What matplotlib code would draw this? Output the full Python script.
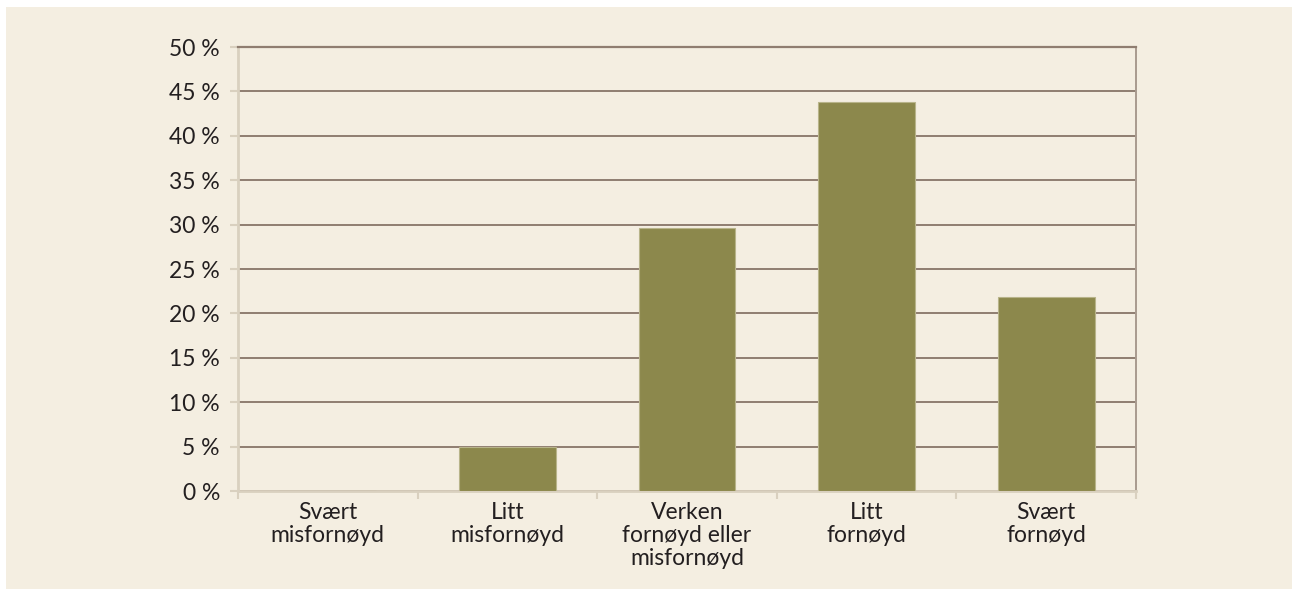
import numpy as np
import matplotlib
matplotlib.use("Agg")
import matplotlib.pyplot as plt
from matplotlib.patches import Rectangle
from matplotlib.ticker import MultipleLocator, FuncFormatter

# data
categories = ["Svært\nmisfornøyd", "Litt\nmisfornøyd", "Verken\nfornøyd eller\nmisfornøyd",
              "Litt\nfornøyd", "Svært\nfornøyd"]
values = [0.0, 4.9, 29.6, 43.8, 21.9]

bg = "#f4eee1"
bar_col = "#8c884c"
grid_col = "#8f7d70"
axis_col = "#d9d0bf"

plt.rcParams['font.family'] = ['Lato', 'DejaVu Sans']

fig = plt.figure(figsize=(12.92, 5.89), dpi=100, facecolor="white")
# beige panel, thin white strip on top and left
fig.patches.append(Rectangle((6 / 1292, 0), 1, 1 - 7 / 589, transform=fig.transFigure,
                             facecolor=bg, edgecolor="none", zorder=-5))

ax = fig.add_axes([238 / 1292, 98 / 589, 898 / 1292, 444 / 589])
ax.set_facecolor(bg)

x = np.arange(len(categories))
ax.bar(x, values, width=0.54, color=bar_col, edgecolor="#b8b48a", linewidth=0.8, zorder=3)

ax.set_xlim(-0.5, len(categories) - 0.5)
ax.set_ylim(0, 50)
ax.yaxis.set_major_locator(MultipleLocator(5))
ax.yaxis.set_major_formatter(FuncFormatter(lambda v, p: f"{v:.0f} %"))
ax.grid(axis="y", color=grid_col, linewidth=1.4, zorder=1)
ax.set_axisbelow(True)

# category ticks sit between the bars
ax.set_xticks(np.arange(-0.5, len(categories)), minor=False)
ax.set_xticklabels([])
ax.set_xticks(x, minor=True)
ax.set_xticklabels(categories, minor=True, fontsize=16.5, color="#231f20", linespacing=1.1)
ax.tick_params(axis="x", which="major", direction="out", length=6, width=1.5, color=axis_col)
ax.tick_params(axis="x", which="minor", length=0, pad=8)
ax.tick_params(axis="y", direction="out", length=6, width=1.5, color=axis_col,
               labelsize=16.5, labelcolor="#231f20", pad=7)

for s in ["left", "bottom"]:
    ax.spines[s].set_color(axis_col)
    ax.spines[s].set_linewidth(2)
ax.spines["right"].set_color("#a89a8e")
ax.spines["right"].set_linewidth(1.4)
ax.spines["top"].set_color(grid_col)
ax.spines["top"].set_linewidth(1.6)

fig.savefig("out.png", dpi=100, facecolor="white")
